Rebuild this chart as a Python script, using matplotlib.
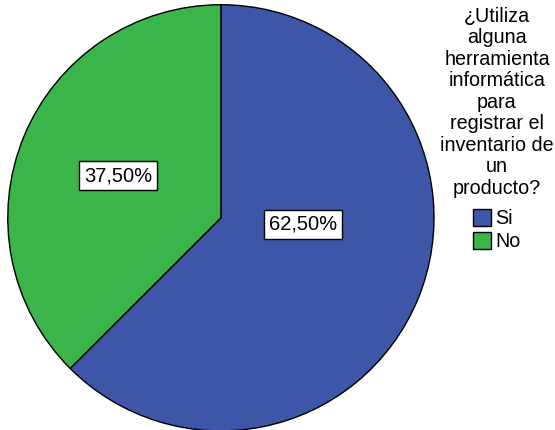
import matplotlib
matplotlib.use("Agg")
import matplotlib.pyplot as plt

categories = ["Si", "No"]
values = [62.5, 37.5]
pct_labels = ["62,50%", "37,50%"]
colors = ["#3D56A8", "#3BB44A"]
legend_title = "¿Utiliza\nalguna\nherramienta\ninformática\npara\nregistrar el\ninventario de\nun\nproducto?"

plt.rcParams['font.family'] = ['Liberation Sans', 'DejaVu Sans']

fig = plt.figure(figsize=(5.55, 4.30), dpi=100)
ax = fig.add_axes([0.014, -0.002, 0.768, 0.991])
wedges, _ = ax.pie(values, colors=colors, startangle=90, counterclock=False,
                   wedgeprops=dict(edgecolor="black", linewidth=1.0))
ax.set_xlim(-1, 1)
ax.set_ylim(-1, 1)
ax.set_aspect('auto')

label_pos = [(0.387, -0.031), (-0.481, 0.197)]
for (x, y), t in zip(label_pos, pct_labels):
    ax.text(x, y, t, ha='center', va='center', fontsize=14.5,
            bbox=dict(boxstyle='square,pad=0.25', facecolor='white', edgecolor='black', linewidth=1.0))

fig.text(497/555, 1 - 7/430, legend_title, ha='center', va='top', fontsize=14.2,
         multialignment='center', linespacing=1.165)

leg = fig.legend(wedges, categories, loc='upper center',
                 bbox_to_anchor=(497/555, 1 - 209/430), frameon=False, fontsize=14.2,
                 handlelength=0.92, handleheight=0.92, handletextpad=0.2,
                 labelspacing=0.2, borderaxespad=0.0, borderpad=0.0)
for h in leg.legend_handles:
    h.set_edgecolor('black')
    h.set_linewidth(1.0)

fig.savefig("out.png", dpi=100)
